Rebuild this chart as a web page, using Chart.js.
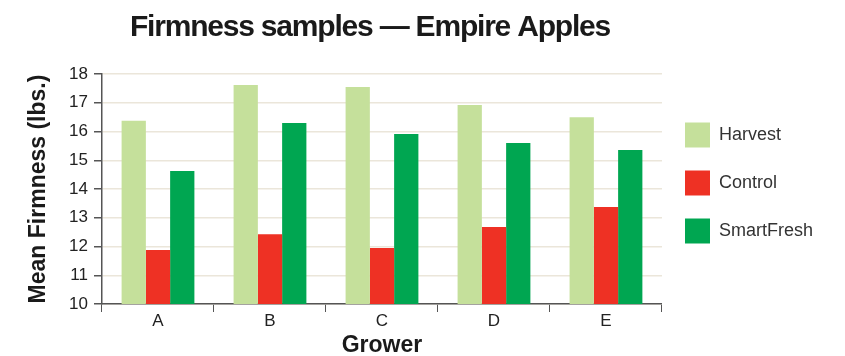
<!DOCTYPE html>
<html>
<head>
<meta charset="utf-8">
<script src="https://cdn.jsdelivr.net/npm/chart.js@4"></script>
<style>
html,body{margin:0;padding:0;background:#fff;}
#wrap{width:845px;height:356px;position:relative;}
</style>
</head>
<body>
<div id="wrap"><canvas id="c" width="845" height="356"></canvas></div>
<script>
const chartTitle = 'Firmness samples \u2014 Empire Apples';
const xTitle = 'Grower';
const yTitle = 'Mean Firmness (lbs.)';
const categories = ['A', 'B', 'C', 'D', 'E'];
const seriesNames = ['Harvest', 'Control', 'SmartFresh'];
const harvest = [16.37, 17.62, 17.55, 16.92, 16.50];
const control = [11.88, 12.43, 11.95, 12.68, 13.37];
const smartFresh = [14.63, 16.30, 15.91, 15.60, 15.36];
const yMin = 10, yMax = 18, yStep = 1;

const colors = ['#c5e09b', '#ee3124', '#00a651'];
const FONT = '"Liberation Sans", Arial, sans-serif';

const titlePlugin = {
  id: 'customTitle',
  afterLayout(chart) {
    if (chart.legend) {
      chart.legend.top -= 6;
      chart.legend.bottom -= 6;
    }
  },
  afterDraw(chart) {
    const ctx = chart.ctx;
    ctx.save();
    ctx.font = 'bold 30px ' + FONT;
    try { ctx.letterSpacing = '-1.2px'; } catch (e) {}
    ctx.fillStyle = '#1a1a1a';
    ctx.textAlign = 'center';
    ctx.textBaseline = 'alphabetic';
    ctx.fillText(chartTitle, 370, 36);
    ctx.restore();
  }
};

new Chart(document.getElementById('c'), {
  type: 'bar',
  data: {
    labels: categories,
    datasets: [harvest, control, smartFresh].map((d, i) => ({
      label: seriesNames[i],
      data: d,
      backgroundColor: colors[i],
      borderWidth: 0,
      barPercentage: 1.0,
      categoryPercentage: 0.65
    }))
  },
  plugins: [titlePlugin],
  options: {
    responsive: false,
    animation: false,
    devicePixelRatio: 1,
    layout: { padding: { top: 74, right: 22, bottom: 0, left: 0 } },
    plugins: {
      title: { display: false },
      tooltip: { enabled: false },
      legend: {
        position: 'right',
        fullSize: false,
        align: 'center',
        labels: {
          boxWidth: 25,
          boxHeight: 25,
          padding: 23,
          color: '#333',
          font: { family: FONT, size: 18 }
        }
      }
    },
    scales: {
      x: {
        afterFit(s) { s.height = 52; },
        grid: { display: true, drawOnChartArea: false, drawTicks: true, tickLength: 8, tickColor: '#555', offset: true },
        border: { display: true, color: '#555', width: 1.5 },
        ticks: { color: '#222', font: { family: FONT, size: 17 }, padding: -1 },
        title: { display: true, text: xTitle, color: '#1a1a1a', font: { family: FONT, size: 23, weight: 'bold', lineHeight: 0.9 }, padding: { top: 0, bottom: 0 } }
      },
      y: {
        min: yMin, max: yMax,
        afterFit(s) { s.width = 102; },
        grid: { color: '#ebe6da', lineWidth: 1.5, drawTicks: true, tickLength: 8, tickColor: '#555' },
        border: { display: true, color: '#555', width: 1.5 },
        ticks: { stepSize: yStep, color: '#222', font: { family: FONT, size: 17 }, padding: 6 },
        title: { display: true, text: yTitle, color: '#1a1a1a', font: { family: FONT, size: 23, weight: 'bold' }, padding: { top: 25, bottom: 0 } }
      }
    }
  }
});
</script>
</body>
</html>
